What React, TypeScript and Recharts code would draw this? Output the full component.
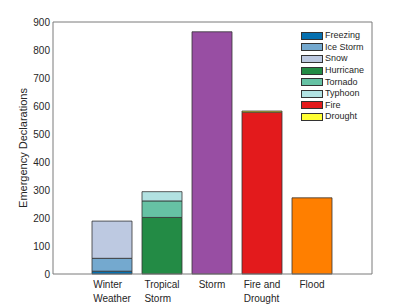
import React from "react";
import { Bar, BarChart, Legend, ReferenceLine, XAxis, YAxis } from "recharts";

// categories on the x axis ("\n" splits a label over two lines)
const categories = ["Winter\nWeather", "Tropical\nStorm", "Storm", "Fire and\nDrought", "Flood"];

// declarations per category, one array per hazard type
const freezing = [10, 0, 0, 0, 0];
const iceStorm = [46, 0, 0, 0, 0];
const snow = [133, 0, 0, 0, 0];
const hurricane = [0, 202, 0, 0, 0];
const tornado = [0, 59, 0, 0, 0];
const typhoon = [0, 33, 0, 0, 0];
const storm = [0, 0, 865, 0, 0];
const fire = [0, 0, 0, 578, 0];
const drought = [0, 0, 0, 4, 0];
const flood = [0, 0, 0, 0, 272];

const yTicks = [0, 100, 200, 300, 400, 500, 600, 700, 800, 900];

const FONT = "'Liberation Sans', Arial, Helvetica, sans-serif";
const TEXT = "#262626";
const AXIS = "#7a7a7a";
const EDGE = "#333333";

// bottom-to-top stacking order; legend only lists the first eight like the original
const series = [
  { key: "freezing", name: "Freezing", values: freezing, color: "#0570b0", inLegend: true },
  { key: "iceStorm", name: "Ice Storm", values: iceStorm, color: "#74a9cf", inLegend: true },
  { key: "snow", name: "Snow", values: snow, color: "#bdc9e1", inLegend: true },
  { key: "hurricane", name: "Hurricane", values: hurricane, color: "#238b45", inLegend: true },
  { key: "tornado", name: "Tornado", values: tornado, color: "#66c2a4", inLegend: true },
  { key: "typhoon", name: "Typhoon", values: typhoon, color: "#b2e2e2", inLegend: true },
  { key: "storm", name: "Storm", values: storm, color: "#984ea3", inLegend: false },
  { key: "fire", name: "Fire", values: fire, color: "#e31a1c", inLegend: true },
  { key: "drought", name: "Drought", values: drought, color: "#ffff33", inLegend: true },
  { key: "flood", name: "Flood", values: flood, color: "#ff7f00", inLegend: false },
];

const data = categories.map((name, i) => {
  const row: Record<string, string | number> = { name };
  series.forEach((s) => {
    row[s.key] = s.values[i];
  });
  return row;
});

let ctx: CanvasRenderingContext2D | null = null;
function textWidth(s: string) {
  if (!ctx) ctx = document.createElement("canvas").getContext("2d");
  if (!ctx) return s.length * 5.5;
  ctx.font = `10px ${FONT}`;
  return ctx.measureText(s).width;
}

// MATLAB-style multi-line tick: block centred on the tick, lines left-aligned
function CategoryTick({ x, y, payload }: any) {
  const lines = String(payload.value).split("\n");
  const w = Math.max(...lines.map(textWidth));
  const left = x - w / 2;
  return (
    <text x={left} y={y} fill={TEXT} fontSize={10} fontFamily={FONT} textAnchor="start">
      {lines.map((line, i) => (
        <tspan key={i} x={left} y={y + 14 + i * 13.5}>
          {line}
        </tspan>
      ))}
    </text>
  );
}

function HazardLegend() {
  return (
    <div style={{ fontFamily: FONT, fontSize: 9, color: TEXT }}>
      {series
        .filter((s) => s.inLegend)
        .map((s) => (
          <div key={s.key} style={{ display: "flex", alignItems: "center", height: 11.6 }}>
            <span
              style={{
                display: "inline-block",
                width: 20,
                height: 6,
                background: s.color,
                border: `1px solid ${EDGE}`,
                marginRight: 2,
              }}
            />
            <span style={{ lineHeight: "11px" }}>{s.name}</span>
          </div>
        ))}
    </div>
  );
}

export default function App() {
  return (
    <div style={{ position: "absolute", left: 0, top: 0, width: 411, height: 308, background: "#fff" }}>
      <BarChart
        width={411}
        height={308}
        data={data}
        margin={{ top: 22, right: 38, bottom: 0, left: 13 }}
        barCategoryGap={5}
      >
        <XAxis
          dataKey="name"
          type="category"
          height={34}
          padding={{ left: 34, right: 35 }}
          axisLine={{ stroke: AXIS }}
          tickLine={false}
          tickSize={0}
          tickMargin={0}
          interval={0}
          tick={<CategoryTick />}
        />
        <YAxis
          width={40}
          domain={[0, 900]}
          ticks={yTicks}
          axisLine={{ stroke: AXIS }}
          tickLine={false}
          tickSize={0}
          tickMargin={3}
          tick={{ fill: TEXT, fontSize: 10, fontFamily: FONT }}
          label={{
            value: "Emergency Declarations",
            angle: -90,
            position: "center",
            dx: -10,
            fill: TEXT,
            fontSize: 11,
            fontFamily: FONT,
          }}
        />
        {/* right and top edges of the axes box */}
        <YAxis
          yAxisId="right"
          orientation="right"
          width={1}
          domain={[0, 900]}
          ticks={yTicks}
          axisLine={{ stroke: AXIS }}
          tick={false}
          tickLine={false}
        />
        <ReferenceLine y={900} stroke={AXIS} />
        <Legend
          layout="vertical"
          align="center"
          verticalAlign="middle"
          wrapperStyle={{ left: 301, top: 30, width: 80 }}
          content={() => <HazardLegend />}
        />
        {series.map((s) => (
          <Bar
            key={s.key}
            dataKey={s.key}
            name={s.name}
            stackId="a"
            fill={s.color}
            stroke={EDGE}
            strokeWidth={0.8}
            isAnimationActive={false}
          />
        ))}
      </BarChart>
    </div>
  );
}
